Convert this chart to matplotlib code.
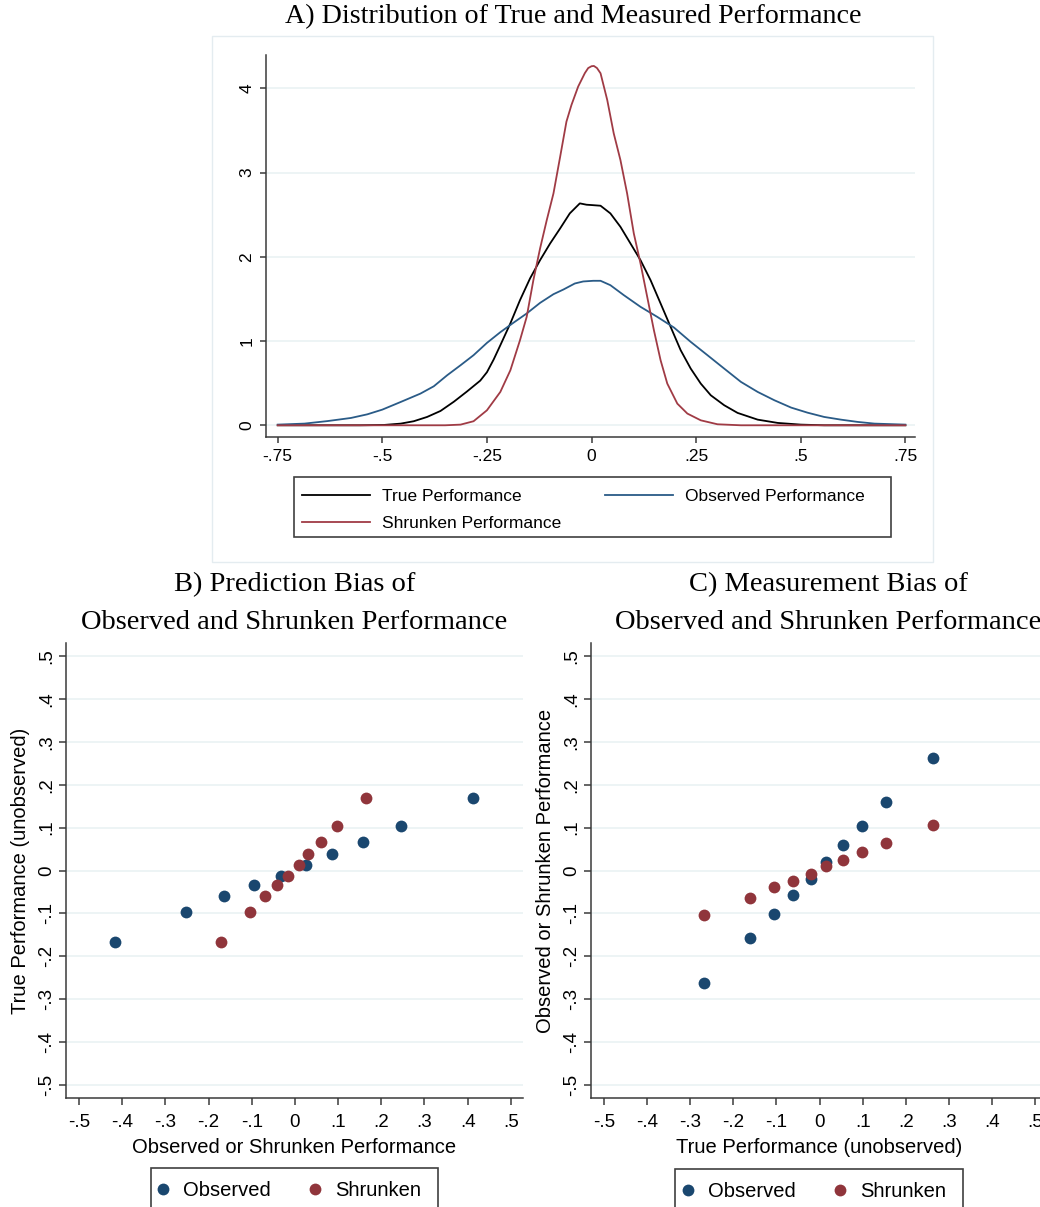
import matplotlib
matplotlib.use("Agg")
import matplotlib.pyplot as plt
from matplotlib.lines import Line2D
from matplotlib.patches import Rectangle

W, H = 1040, 1207
SANS = "Liberation Sans"
SERIF = "Liberation Serif"

NAVY = "#1A476F"
MAROON = "#90353B"
LINE_BLUE = "#2A5B87"
LINE_RED = "#A03B45"
GRID = "#EAF2F3"
AXC = "#3a3a3a"

# ── Panel A: density curves ─────────────────────────────────────────────────
true_x = [-0.75, -0.552, -0.496, -0.456, -0.425, -0.393, -0.361, -0.329, -0.298,
          -0.266, -0.25, -0.234, -0.218, -0.194, -0.171, -0.147, -0.123, -0.099,
          -0.075, -0.052, -0.028, -0.012, 0.0, 0.0215, 0.045, 0.069, 0.093, 0.117,
          0.141, 0.165, 0.189, 0.213, 0.237, 0.261, 0.285, 0.317, 0.349, 0.397,
          0.445, 0.50, 0.556, 0.75]
true_y = [0.0, 0.0, 0.004, 0.02, 0.048, 0.099, 0.17, 0.28, 0.40,
          0.53, 0.63, 0.78, 0.95, 1.21, 1.485, 1.743, 1.96, 2.158,
          2.337, 2.515, 2.634, 2.618, 2.614, 2.606, 2.515, 2.356, 2.158, 1.96,
          1.723, 1.446, 1.168, 0.891, 0.673, 0.495, 0.356, 0.238, 0.147, 0.067,
          0.028, 0.008, 0.0, 0.0]

obs_x = [-0.75, -0.686, -0.631, -0.575, -0.536, -0.5, -0.456, -0.409, -0.377,
         -0.345, -0.313, -0.282, -0.25, -0.218, -0.187, -0.155, -0.123, -0.091,
         -0.067, -0.040, -0.020, 0.004, 0.0215, 0.045, 0.077, 0.117, 0.157, 0.197,
         0.237, 0.277, 0.317, 0.357, 0.397, 0.437, 0.477, 0.516, 0.556, 0.596,
         0.636, 0.676, 0.75]
obs_y = [0.008, 0.02, 0.05, 0.087, 0.13, 0.186, 0.277, 0.376, 0.463,
         0.594, 0.713, 0.832, 0.978, 1.105, 1.216, 1.327, 1.453, 1.556,
         1.612, 1.683, 1.707, 1.715, 1.715, 1.663, 1.545, 1.406, 1.287, 1.16,
         0.99, 0.832, 0.673, 0.515, 0.396, 0.297, 0.21, 0.15, 0.099, 0.067,
         0.04, 0.02, 0.008]

shr_x = [-0.75, -0.35, -0.313, -0.282, -0.25, -0.218, -0.194, -0.171, -0.155,
         -0.139, -0.123, -0.107, -0.091, -0.075, -0.060, -0.048, -0.032, -0.016,
         -0.008, 0.0, 0.0056, 0.013, 0.0215, 0.0375, 0.053, 0.069, 0.085, 0.101,
         0.117, 0.133, 0.149, 0.165, 0.181, 0.205, 0.229, 0.261, 0.301, 0.357, 0.75]
shr_y = [0.0, 0.0, 0.008, 0.048, 0.178, 0.396, 0.653, 1.01, 1.287,
         1.723, 2.099, 2.436, 2.752, 3.188, 3.604, 3.802, 4.02, 4.18,
         4.24, 4.262, 4.265, 4.24, 4.178, 3.861, 3.465, 3.149, 2.752, 2.277,
         1.921, 1.525, 1.129, 0.772, 0.495, 0.257, 0.139, 0.059, 0.012, 0.0, 0.0]

a_xticks = [-0.75, -0.5, -0.25, 0, 0.25, 0.5, 0.75]
a_xlabels = ["-.75", "-.5", "-.25", "0", ".25", ".5", ".75"]
a_yticks = [0, 1, 2, 3, 4]
a_ylabels = ["0", "1", "2", "3", "4"]

# ── Panel B: binned true performance vs observed / shrunken ────────────────
b_obs_x = [-0.417, -0.252, -0.164, -0.0945, -0.033, 0.026, 0.085, 0.157, 0.246, 0.412]
b_shr_x = [-0.170, -0.104, -0.069, -0.041, -0.016, 0.0094, 0.0315, 0.060, 0.098, 0.164]
b_true_y = [-0.166, -0.0975, -0.060, -0.034, -0.012, 0.013, 0.038, 0.066, 0.104, 0.170]

# ── Panel C: binned observed / shrunken vs true performance ────────────────
c_true_x = [-0.268, -0.161, -0.1065, -0.062, -0.021, 0.016, 0.054, 0.098, 0.155, 0.263]
c_obs_y = [-0.2615, -0.158, -0.101, -0.057, -0.019, 0.019, 0.059, 0.103, 0.160, 0.263]
c_shr_y = [-0.104, -0.064, -0.0377, -0.0236, -0.0071, 0.0099, 0.025, 0.0438, 0.065, 0.106]

bc_ticks = [-0.5, -0.4, -0.3, -0.2, -0.1, 0, 0.1, 0.2, 0.3, 0.4, 0.5]
bc_labels = ["-.5", "-.4", "-.3", "-.2", "-.1", "0", ".1", ".2", ".3", ".4", ".5"]


fig = plt.figure(figsize=(W / 100, H / 100), dpi=100)


def px_axes(l, t, r, b):
    return fig.add_axes([l / W, 1 - b / H, (r - l) / W, (b - t) / H])


def px_rect(l, t, r, b, **kw):
    fig.add_artist(Rectangle((l / W, 1 - b / H), (r - l) / W, (b - t) / H,
                             transform=fig.transFigure, fill=False, **kw))


def style_axes(ax, fs, tlen, xpad, ypad):
    for s in ("top", "right"):
        ax.spines[s].set_visible(False)
    for s in ("left", "bottom"):
        ax.spines[s].set_color(AXC)
        ax.spines[s].set_linewidth(1.1)
    ax.tick_params(axis="both", colors=AXC, width=1.1, length=tlen, labelcolor="black",
                   labelsize=fs)
    ax.tick_params(axis="x", pad=xpad)
    ax.tick_params(axis="y", pad=ypad)
    ax.grid(True, axis="y", color=GRID, lw=1.2, zorder=0)
    ax.set_axisbelow(True)
    for lab in ax.get_xticklabels() + ax.get_yticklabels():
        lab.set_fontfamily(SANS)
    for lab in ax.get_yticklabels():
        lab.set_rotation(90)
        lab.set_va("center")


# outer light frame of panel A
px_rect(212, 36, 933, 562, ec="#E4ECF0", lw=1.0)

# ── Panel A ────────────────────────────────────────────────────────────────
axA = px_axes(266, 55, 915, 437)
axA.plot(true_x, true_y, color="black", lw=1.3, zorder=3)
axA.plot(obs_x, obs_y, color=LINE_BLUE, lw=1.3, zorder=3)
axA.plot(shr_x, shr_y, color=LINE_RED, lw=1.3, zorder=3)
axA.set_xlim(-0.778, 0.773)
axA.set_ylim(-0.139, 4.395)
axA.set_xticks(a_xticks, a_xlabels)
axA.set_yticks(a_yticks, a_ylabels)
style_axes(axA, 12.5, 4.3, 4.5, 4.0)

fig.text(573.5 / W, 1 - 17 / H, "A) Distribution of True and Measured Performance",
         ha="center", va="center", family=SERIF, fontsize=20.2)

hA = [Line2D([], [], color="black", lw=1.3),
      Line2D([], [], color=LINE_RED, lw=1.3),
      Line2D([], [], color=LINE_BLUE, lw=1.3)]
lA = ["True Performance", "Shrunken Performance", "Observed Performance"]
fig.legend(hA, lA, ncol=2, loc="upper left", bbox_to_anchor=(302 / W, 1 - 489 / H),
           frameon=False, borderpad=0, borderaxespad=0, handlelength=3.9,
           handletextpad=0.69, columnspacing=2.56, labelspacing=0.68,
           prop={"family": SANS, "size": 12.5})
px_rect(294, 477, 891, 537, ec="#404040", lw=1.2)


# ── Panels B and C ─────────────────────────────────────────────────────────
def scatter_panel(l, r, xs_obs, ys_obs, xs_shr, ys_shr, xlabel, ylabel,
                  title, tx, leg):
    ax = px_axes(l, 643, r, 1098)
    ax.plot(xs_obs, ys_obs, "o", color=NAVY, ms=8.5, mew=0, zorder=3)
    ax.plot(xs_shr, ys_shr, "o", color=MAROON, ms=8.5, mew=0, zorder=4)
    ax.set_xlim(-0.531, 0.529)
    ax.set_ylim(-0.53, 0.53)
    ax.set_xticks(bc_ticks, bc_labels)
    ax.set_yticks(bc_ticks, bc_labels)
    style_axes(ax, 13.5, 5.0, 6.5, 2.6)
    ax.set_xlabel(xlabel, family=SANS, fontsize=14.5, labelpad=5)
    ax.set_ylabel(ylabel, family=SANS, fontsize=14.5, labelpad=6)
    fig.text(tx / W, 1 - 604 / H, title, ha="center", va="center", family=SERIF,
             fontsize=20.5, linespacing=1.68)
    handles = [Line2D([], [], ls="none", marker="o", color=NAVY, ms=8.5, mew=0),
               Line2D([], [], ls="none", marker="o", color=MAROON, ms=8.5, mew=0)]
    hx, top, box = leg
    fig.legend(handles, ["Observed", "Shrunken"], ncol=2, loc="upper left",
               bbox_to_anchor=(hx / W, 1 - top / H), frameon=False, borderpad=0,
               borderaxespad=0, handlelength=0.6, handletextpad=0.7,
               columnspacing=1.87, prop={"family": SANS, "size": 14.5})
    px_rect(box[0], box[1], box[2], box[3], ec="#404040", lw=1.2)
    return ax


scatter_panel(65.6, 523.3, b_obs_x, b_true_y, b_shr_x, b_true_y,
              "Observed or Shrunken Performance", "True Performance (unobserved)",
              "B) Prediction Bias of\nObserved and Shrunken Performance", 294.5,
              (157, 1181, (150.5, 1167.6, 438, 1230)))
scatter_panel(590.7, 1047.6, c_true_x, c_obs_y, c_true_x, c_shr_y,
              "True Performance (unobserved)", "Observed or Shrunken Performance",
              "C) Measurement Bias of\nObserved and Shrunken Performance", 828.6,
              (682, 1182, (675, 1168.6, 962.7, 1230)))

fig.savefig("out.png", dpi=100)
